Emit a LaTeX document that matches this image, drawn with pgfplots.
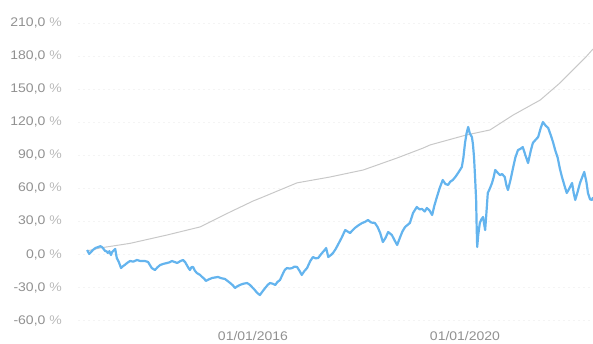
\documentclass[border=0pt]{standalone}
\usepackage{fontspec}
\setmainfont{Liberation Sans}[FakeStretch=1.12]
\usepackage{pgfplots}
\pgfplotsset{compat=1.18}
\definecolor{lineblue}{RGB}{100,180,238}
\definecolor{linegray}{RGB}{200,200,200}
\definecolor{labgray}{RGB}{145,145,145}
\definecolor{pctgray}{RGB}{185,185,185}
\definecolor{gridgray}{RGB}{244,244,244}
\newcommand{\pc}{\textcolor{pctgray}{\%}}
\begin{document}
\begin{tikzpicture}
\begin{axis}[
  at={(78bp,23.4bp)}, anchor=south west,
  scale only axis, width=515bp, height=297.5bp,
  xmin=2012.698, xmax=2022.415, ymin=-60, ymax=210,
  xtick={2016,2020}, xticklabels={01/01/2016,01/01/2020},
  ytick={-60,-30,0,30,60,90,120,150,180,210},
  yticklabels={{-60,0 \pc},{-30,0 \pc},{0,0 \pc},{30,0 \pc},{60,0 \pc},{90,0 \pc},{120,0 \pc},{150,0 \pc},{180,0 \pc},{210,0 \pc}},
  ymajorgrids, major grid style={draw=gridgray, line width=0.8bp, dash pattern=on 2bp off 3bp},
  axis line style={draw=none}, major tick style={draw=none},
  tick label style={font=\fontsize{12.5bp}{14bp}\selectfont, text=labgray},
  yticklabel style={anchor=east, inner sep=0pt, xshift=-16bp},
  xticklabel style={anchor=north, inner sep=0pt, yshift=-11bp},
]
\addplot[linegray, line width=1bp, line join=round] table {
2012.87 3.2
2013.11 5.9
2013.68 10.1
2014.38 17.7
2015.00 25.0
2015.57 38.6
2016.00 48.5
2016.19 52.2
2016.83 65.0
2017.45 70.3
2018.08 76.7
2018.45 83.0
2018.72 87.6
2019.21 96.6
2019.34 99.4
2020.02 108.4
2020.47 113.0
2020.91 126.6
2021.42 140.2
2021.79 155.6
2022.28 179.2
2022.415 186.5
};
\addplot[lineblue, line width=2.2bp, line join=round] table {
2012.87 4.1
2012.91 0.5
2012.95 2.5
2012.98 4.1
2013.03 6.0
2013.08 6.8
2013.12 7.5
2013.15 6.8
2013.21 3.2
2013.24 2.8
2013.26 1.4
2013.29 3.0
2013.32 -0.5
2013.34 2.0
2013.36 3.2
2013.40 5.0
2013.43 -3.2
2013.47 -7.0
2013.51 -12.3
2013.55 -10.5
2013.58 -9.5
2013.63 -7.5
2013.68 -5.9
2013.74 -6.5
2013.81 -5.0
2013.88 -6.0
2013.96 -5.9
2014.02 -6.8
2014.06 -10.0
2014.09 -12.3
2014.15 -14.1
2014.20 -11.5
2014.25 -9.5
2014.31 -8.5
2014.38 -7.7
2014.43 -7.0
2014.47 -5.9
2014.52 -6.8
2014.57 -7.7
2014.63 -6.0
2014.68 -5.0
2014.72 -7.0
2014.75 -9.5
2014.78 -12.0
2014.81 -14.1
2014.84 -11.5
2014.87 -11.3
2014.90 -14.5
2014.94 -16.8
2015.00 -18.5
2015.04 -20.4
2015.08 -22.0
2015.11 -24.0
2015.17 -22.5
2015.23 -21.3
2015.29 -20.8
2015.34 -20.4
2015.40 -21.5
2015.47 -22.2
2015.52 -24.0
2015.57 -25.9
2015.62 -28.0
2015.66 -30.4
2015.70 -29.0
2015.75 -27.7
2015.82 -26.5
2015.89 -25.9
2015.94 -27.5
2015.98 -29.5
2016.03 -32.0
2016.08 -34.9
2016.13 -36.8
2016.18 -33.5
2016.23 -30.4
2016.28 -27.5
2016.32 -25.9
2016.37 -26.5
2016.42 -27.7
2016.46 -25.0
2016.51 -23.1
2016.57 -16.8
2016.60 -14.0
2016.64 -12.3
2016.69 -12.8
2016.74 -12.3
2016.78 -11.0
2016.83 -11.3
2016.88 -15.0
2016.92 -18.6
2016.97 -15.0
2017.02 -12.3
2017.08 -6.0
2017.13 -2.3
2017.18 -3.5
2017.23 -3.2
2017.28 0.0
2017.32 2.3
2017.36 4.5
2017.38 5.9
2017.42 -2.3
2017.47 -0.5
2017.51 1.4
2017.56 5.0
2017.60 8.6
2017.67 15.0
2017.74 22.2
2017.78 21.0
2017.83 19.5
2017.88 22.0
2017.92 24.0
2017.99 26.5
2018.06 28.6
2018.11 29.5
2018.17 31.3
2018.23 29.0
2018.30 28.6
2018.35 25.0
2018.40 19.5
2018.45 11.3
2018.50 15.0
2018.55 20.4
2018.62 17.7
2018.67 13.0
2018.72 8.6
2018.77 15.0
2018.82 21.0
2018.87 25.0
2018.96 28.6
2019.02 37.7
2019.09 43.1
2019.14 41.0
2019.19 41.3
2019.24 39.0
2019.28 42.2
2019.33 40.0
2019.38 35.8
2019.42 44.0
2019.47 52.2
2019.52 60.0
2019.58 67.6
2019.63 64.0
2019.68 63.1
2019.72 66.0
2019.77 67.6
2019.82 70.5
2019.87 74.0
2019.94 79.4
2019.97 88.0
2020.00 101.2
2020.03 110.0
2020.06 115.7
2020.09 110.0
2020.13 106.6
2020.15 100.0
2020.17 88.5
2020.19 70.0
2020.21 49.5
2020.22 25.0
2020.23 6.8
2020.25 18.0
2020.28 28.6
2020.31 32.0
2020.34 34.0
2020.36 28.0
2020.38 22.2
2020.40 35.0
2020.43 55.8
2020.47 60.0
2020.51 64.9
2020.54 70.0
2020.57 76.7
2020.62 74.0
2020.66 72.1
2020.70 73.0
2020.75 70.3
2020.78 63.0
2020.81 58.5
2020.86 68.0
2020.91 79.4
2020.95 88.0
2021.00 94.8
2021.05 96.0
2021.09 97.5
2021.14 90.0
2021.19 83.0
2021.24 94.0
2021.28 101.2
2021.33 104.0
2021.38 106.6
2021.43 115.0
2021.47 120.2
2021.52 117.0
2021.57 114.8
2021.62 108.0
2021.66 102.1
2021.70 95.0
2021.75 87.6
2021.79 78.0
2021.83 70.3
2021.88 62.0
2021.92 55.8
2021.97 60.0
2022.02 64.9
2022.05 56.0
2022.08 49.5
2022.12 56.0
2022.17 64.9
2022.21 70.0
2022.25 74.9
2022.29 66.0
2022.32 55.8
2022.36 50.0
2022.40 49.5
2022.415 52.0
};
\end{axis}
\pgfresetboundingbox
\path (0,0) rectangle (593bp,344bp);
\end{tikzpicture}
\end{document}
